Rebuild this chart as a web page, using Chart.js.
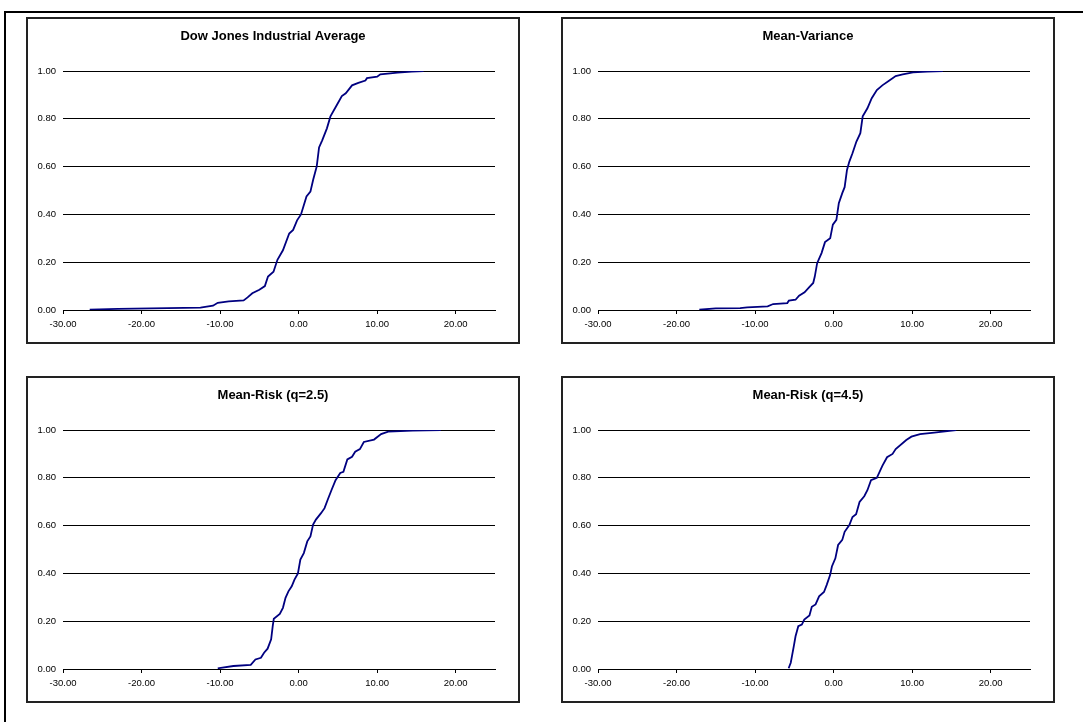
<!DOCTYPE html>
<html lang="en">
<head>
<meta charset="UTF-8">
<title>Return distributions</title>
<script src="https://cdn.jsdelivr.net/npm/chart.js"></script>
<style>
  body { margin: 0; background: #fff; width: 1083px; height: 722px; overflow: hidden; position: relative; }
  #frame { position: absolute; left: 4px; top: 11px; width: 1100px; height: 740px; border: 2px solid #000; }
  .box { position: absolute; width: 490px; height: 323px; border: 2px solid #222; background: #fff; }
  .box canvas { display: block; }
</style>
</head>
<body>
<div id="frame"></div>
<div class="box" style="left:26px; top:17px;"><canvas id="c0" width="490" height="323"></canvas></div>
<div class="box" style="left:561px; top:17px;"><canvas id="c1" width="490" height="323"></canvas></div>
<div class="box" style="left:26px; top:376px;"><canvas id="c2" width="490" height="323"></canvas></div>
<div class="box" style="left:561px; top:376px;"><canvas id="c3" width="490" height="323"></canvas></div>
<script>
// panel titles
const titles = ['Dow Jones Industrial Average', 'Mean-Variance', 'Mean-Risk (q=2.5)', 'Mean-Risk (q=4.5)'];

// cumulative distribution (return %, cumulative share)
const djiaX = [-26.6, -23.0, -12.5, -10.9, -10.3, -8.9, -7.0, -6.5, -5.9, -5.0, -4.3, -3.9, -3.2, -2.7, -2.0, -1.2, -0.7, -0.2, 0.3, 1.0, 1.5, 1.85, 2.3, 2.6, 3.0, 3.6, 4.05, 4.9, 5.5, 6.0, 6.8, 7.6, 8.5, 8.7, 10.0, 10.4, 12.6, 14.4, 15.9];
const djiaY = [0.001, 0.005, 0.01, 0.018, 0.03, 0.036, 0.04, 0.053, 0.07, 0.085, 0.10, 0.14, 0.16, 0.21, 0.25, 0.32, 0.335, 0.375, 0.40, 0.475, 0.495, 0.545, 0.60, 0.68, 0.71, 0.76, 0.81, 0.86, 0.895, 0.907, 0.94, 0.95, 0.96, 0.97, 0.976, 0.986, 0.993, 0.997, 1.0];

const mvX = [-17.1, -15.0, -11.9, -11.0, -8.4, -7.7, -5.9, -5.7, -4.85, -4.4, -3.7, -3.1, -2.6, -2.4, -2.1, -1.54, -1.1, -0.44, -0.1, 0.35, 0.66, 1.1, 1.4, 1.7, 2.0, 2.4, 2.9, 3.4, 3.7, 4.3, 4.85, 5.5, 6.2, 7.0, 7.9, 8.8, 10.1, 11.9, 13.9];
const mvY = [0.001, 0.007, 0.008, 0.011, 0.015, 0.025, 0.029, 0.039, 0.043, 0.06, 0.074, 0.096, 0.113, 0.14, 0.196, 0.238, 0.284, 0.30, 0.357, 0.377, 0.447, 0.489, 0.514, 0.586, 0.621, 0.656, 0.705, 0.74, 0.81, 0.844, 0.886, 0.92, 0.94, 0.958, 0.979, 0.986, 0.994, 0.997, 1.0];

const mr25X = [-10.3, -8.3, -6.1, -5.5, -4.8, -4.4, -3.95, -3.5, -3.3, -3.16, -2.4, -2.0, -1.67, -1.3, -0.88, -0.53, -0.09, 0.22, 0.66, 1.1, 1.5, 1.84, 2.2, 2.85, 3.3, 3.7, 4.2, 4.7, 5.3, 5.7, 6.2, 6.8, 7.2, 7.8, 8.3, 9.6, 10.5, 11.4, 14.5, 18.1];
const mr25Y = [0.003, 0.0125, 0.017, 0.04, 0.047, 0.068, 0.085, 0.124, 0.179, 0.21, 0.23, 0.256, 0.298, 0.325, 0.346, 0.374, 0.40, 0.458, 0.485, 0.534, 0.555, 0.604, 0.625, 0.652, 0.673, 0.708, 0.75, 0.79, 0.82, 0.825, 0.877, 0.888, 0.909, 0.92, 0.95, 0.96, 0.983, 0.993, 0.997, 1.0];

const mr45X = [-5.73, -5.46, -5.07, -4.85, -4.5, -4.05, -3.74, -3.08, -2.78, -2.3, -1.85, -1.23, -0.88, -0.44, -0.22, 0.22, 0.57, 1.1, 1.4, 2.0, 2.4, 2.86, 3.3, 3.9, 4.3, 4.76, 5.5, 6.2, 6.8, 7.5, 7.9, 9.25, 9.9, 11.0, 12.8, 15.6];
const mr45Y = [0.003, 0.026, 0.096, 0.137, 0.179, 0.186, 0.207, 0.224, 0.26, 0.27, 0.304, 0.322, 0.352, 0.394, 0.429, 0.463, 0.519, 0.54, 0.574, 0.602, 0.636, 0.648, 0.699, 0.723, 0.748, 0.79, 0.80, 0.85, 0.886, 0.90, 0.92, 0.958, 0.972, 0.983, 0.989, 1.0];

const series = [[djiaX, djiaY], [mvX, mvY], [mr25X, mr25Y], [mr45X, mr45Y]];

const tickFont = { family: 'Liberation Sans, Arial, sans-serif', size: 9.5 };

function makeChart(id, title, xs, ys) {
    const pts = xs.map((x, i) => ({ x: x, y: ys[i] }));
    return new Chart(document.getElementById(id), {
        type: 'line',
        data: {
            datasets: [{
                data: pts,
                borderColor: '#000080',
                borderWidth: 1.8,
                pointRadius: 0,
                tension: 0,
                fill: false
            }]
        },
        options: {
            responsive: false,
            animation: false,
            events: [],
            layout: { padding: { left: 0, right: 0, top: 0, bottom: 10 } },
            plugins: {
                legend: { display: false },
                tooltip: { enabled: false },
                title: {
                    display: true,
                    text: title,
                    color: '#000',
                    font: { family: 'Liberation Sans, Arial, sans-serif', size: 13, weight: 'bold', lineHeight: 1 },
                    padding: { top: 10.5, bottom: 28.5 }
                }
            },
            scales: {
                x: {
                    type: 'linear',
                    min: -30,
                    max: 25,
                    afterFit: s => { s.height = 22; },
                    ticks: {
                        stepSize: 10,
                        includeBounds: false,
                        color: '#000',
                        font: tickFont,
                        padding: 5,
                        maxRotation: 0,
                        callback: v => v.toFixed(2)
                    },
                    grid: { drawOnChartArea: false, drawTicks: true, tickLength: 4, color: '#000' },
                    border: { display: true, color: '#000', width: 1 }
                },
                y: {
                    min: 0,
                    max: 1,
                    afterFit: s => { s.width = 35; },
                    ticks: {
                        stepSize: 0.2,
                        color: '#000',
                        font: tickFont,
                        padding: 7,
                        callback: v => v.toFixed(2)
                    },
                    grid: { color: '#000', lineWidth: 1, drawTicks: false },
                    border: { display: false }
                },
                // empty margin on the right so the title stays centred in the box
                yr: {
                    position: 'right',
                    min: 0,
                    max: 1,
                    afterFit: s => { s.width = 23; },
                    ticks: { display: false },
                    grid: { display: false },
                    border: { display: false }
                }
            }
        }
    });
}

series.forEach((s, i) => makeChart('c' + i, titles[i], s[0], s[1]));
</script>
</body>
</html>
